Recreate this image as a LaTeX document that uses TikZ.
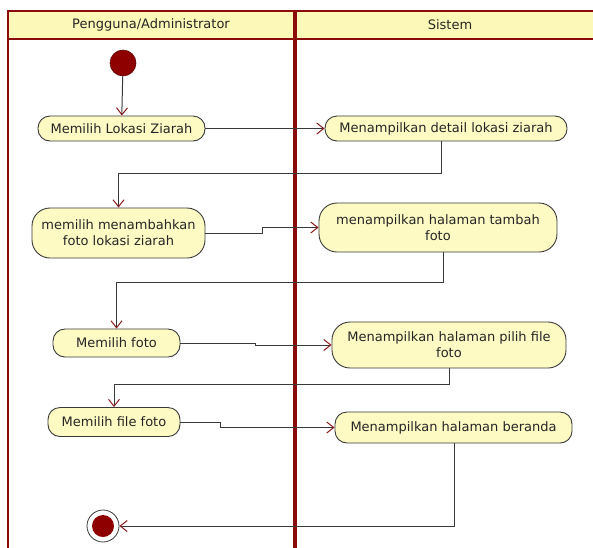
\documentclass[tikz,border=0pt]{standalone}
\usepackage{fontspec}
\setmainfont{DejaVu Sans}
\usetikzlibrary{arrows.meta,calc}

\definecolor{laneframe}{HTML}{8B0A0A}
\definecolor{hdrfill}{HTML}{FCF8B8}
\definecolor{actfill}{HTML}{FDFAC4}
\definecolor{wire}{HTML}{3A3A3A}
\definecolor{tipred}{HTML}{8B1A1A}
\definecolor{dotred}{HTML}{8E0000}

\begin{document}
\begin{tikzpicture}[x=1pt,y=-1pt,
  action/.style={draw=wire, fill=actfill, line width=0.9pt, rounded corners=12pt,
    align=center, inner sep=0pt, text=black!85,
    font=\fontsize{13}{16}\selectfont},
  tallaction/.style={action, rounded corners=18pt},
  flow/.style={draw=wire, line width=1pt,
    -{Straight Barb[length=7pt,width=11pt,color=tipred,line width=1pt]}},
  lanetitle/.style={font=\fontsize{13}{16}\selectfont, text=black!85},
  laneline/.style={draw=laneframe, line width=2.5pt}
]
\useasboundingbox (0,0) rectangle (593,547);

% swimlane frame and headers
\fill[hdrfill] (8,11) rectangle (620,39);
\draw[laneline] (8,570) -- (8,11) -- (620,11);
\draw[laneline] (8,39) -- (620,39);
\draw[draw=laneframe, line width=4pt] (294.5,11) -- (294.5,570);
\node[lanetitle] (lane1) at (151,25) {Pengguna/Administrator};
\node[lanetitle] (lane2) at (450,25) {Sistem};

% start and end
\node[circle, fill=dotred, draw=laneframe!70!black, line width=0.6pt,
      minimum size=26pt, inner sep=0pt] (start) at (123,63) {};
\node[circle, draw=wire, line width=0.8pt, minimum size=32pt, inner sep=0pt] (end) at (103,526) {};
\fill[dotred] (end.center) circle (11pt);

% activities
\node[action, minimum width=167pt, minimum height=25pt] (n1) at (121.5,128.5) {Memilih Lokasi Ziarah};
\node[action, minimum width=242pt, minimum height=25pt] (n2) at (446,128.5) {Menampilkan detail lokasi ziarah};
\node[tallaction, minimum width=173pt, minimum height=50pt] (n3) at (118.5,233) {memilih menambahkan\\foto lokasi ziarah};
\node[tallaction, minimum width=238pt, minimum height=49pt] (n4) at (438,227.5) {menampilkan halaman tambah\\foto};
\node[action, minimum width=127pt, minimum height=28pt] (n5) at (116.5,343) {Memilih foto};
\node[tallaction, minimum width=234pt, minimum height=46pt] (n6) at (449,345) {Menampilkan halaman pilih file\\foto};
\node[action, minimum width=132pt, minimum height=29pt] (n7) at (114,422) {Memilih file foto};
\node[action, minimum width=237pt, minimum height=31pt] (n8) at (453.5,427.5) {Menampilkan halaman beranda};

% bend points of the return paths
\coordinate (b1) at (441,173);
\coordinate (b2) at (443,282);
\coordinate (b3) at (449,384);
\coordinate (b4) at (454,526);

% control flow
\draw[flow] (start) -- (n1);
\draw[flow] (n1.east) -- (n2.west |- n1.east);
\draw[flow] (n2.south -| b1) -- (b1) -| (n3.north);
\draw[flow] (n3.east) -- ++(57,0) |- (n4.west);
\draw[flow] (n4.south -| b2) -- (b2) -| (n5.north);
\draw[flow] (n5.east) -- ++(75,0) |- (n6.west);
\draw[flow] (n6.south -| b3) -- (b3) -| (n7.north);
\draw[flow] (n7.east) -- ++(40,0) |- (n8.west);
\draw[flow] (n8.south -| b4) -- (b4) -- (end.east);
\end{tikzpicture}
\end{document}
